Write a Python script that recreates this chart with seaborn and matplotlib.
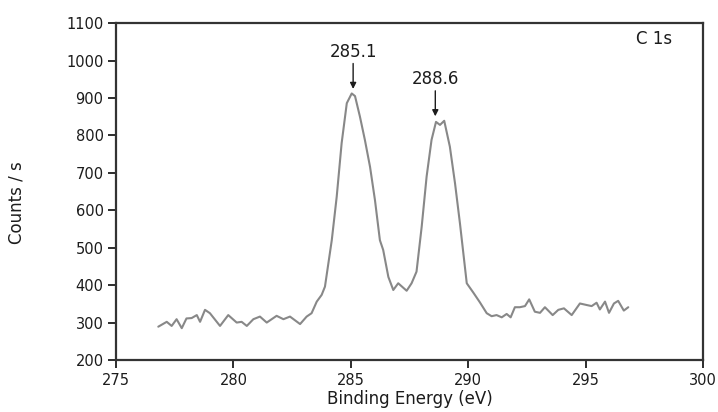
import matplotlib
matplotlib.use("Agg")
import matplotlib.pyplot as plt
import seaborn as sns
import pandas as pd

# C 1s XPS spectrum (binding energy in eV, counts per second)
energy = [276.80, 277.16, 277.37, 277.58, 277.80, 278.00, 278.22, 278.44, 278.58, 278.79,
          279.00, 279.43, 279.78, 280.14, 280.35, 280.57, 280.85, 281.13, 281.42, 281.84,
          282.13, 282.41, 282.84, 283.12, 283.33, 283.55, 283.76, 283.90, 284.19, 284.40,
          284.61, 284.83, 285.04, 285.18, 285.39, 285.60, 285.82, 286.03, 286.24, 286.38,
          286.60, 286.81, 287.02, 287.38, 287.59, 287.80, 288.02, 288.23, 288.44, 288.63,
          288.80, 288.98, 289.22, 289.44, 289.65, 289.94, 290.22, 290.50, 290.79, 291.00,
          291.21, 291.43, 291.64, 291.81, 291.99, 292.20, 292.42, 292.60, 292.84, 293.06,
          293.27, 293.60, 293.84, 294.08, 294.41, 294.76, 295.04, 295.26, 295.47, 295.61,
          295.83, 296.00, 296.21, 296.39, 296.63, 296.82]
counts = [289, 302, 291, 309, 285, 311, 312, 320, 302, 334,
          325, 291, 320, 300, 302, 291, 309, 316, 300, 318,
          309, 316, 296, 316, 325, 356, 374, 396, 520, 636,
          779, 886, 912, 905, 850, 788, 716, 627, 520, 494,
          422, 387, 405, 385, 405, 436, 556, 690, 788, 836,
          828, 839, 770, 672, 565, 405, 380, 354, 325, 317,
          320, 314, 323, 314, 341, 341, 344, 362, 329, 326,
          341, 320, 334, 338, 320, 351, 347, 344, 353, 335,
          356, 326, 351, 358, 332, 341]

peak_positions = [285.1, 288.6]
peak_heights = [912, 839]
peak_labels = ["285.1", "288.6"]

x_ticks = [275, 280, 285, 290, 295, 300]
y_ticks = [200, 300, 400, 500, 600, 700, 800, 900, 1000, 1100]

sns.set_style("ticks")
plt.rcParams["font.family"] = ["DejaVu Sans"]

df = pd.DataFrame({"Binding Energy (eV)": energy, "Counts / s": counts})

fig = plt.figure(figsize=(7.18, 4.12), dpi=100)
ax = fig.add_axes([0.1616, 0.1262, 0.8174, 0.8178])

sns.lineplot(data=df, x="Binding Energy (eV)", y="Counts / s", sort=False,
             color="#888888", linewidth=1.5, ax=ax)

ink = "#1c1c1c"
ax.set_xlim(275, 300)
ax.set_ylim(200, 1100)
ax.set_xticks(x_ticks)
ax.set_yticks(y_ticks)
ax.tick_params(axis="both", direction="out", length=6, width=1.3,
               labelsize=10.5, colors=ink, pad=3)
ax.tick_params(top=False, right=False)
for sp in ax.spines.values():
    sp.set_linewidth(1.6)
    sp.set_color("#333333")

ax.set_xlabel("Binding Energy (eV)", fontsize=12, color=ink, labelpad=2)
ax.set_ylabel("Counts / s", fontsize=12, color=ink)
ax.yaxis.set_label_coords(-0.155, 0.466)

# mark the two component peaks
for pos, h, lab in zip(peak_positions, peak_heights, peak_labels):
    ax.annotate("", xy=(pos, h + 12), xytext=(pos, h + 80),
                arrowprops=dict(arrowstyle="-|>", color=ink, lw=1.0,
                                mutation_scale=9, shrinkA=0, shrinkB=0))
    ax.text(pos, h + 98, lab, ha="center", va="baseline", fontsize=12,
            color=ink)

ax.text(0.947, 0.952, "C 1s", transform=ax.transAxes, ha="right", va="center",
        fontsize=12, color=ink)

fig.savefig("out.png", dpi=100)
